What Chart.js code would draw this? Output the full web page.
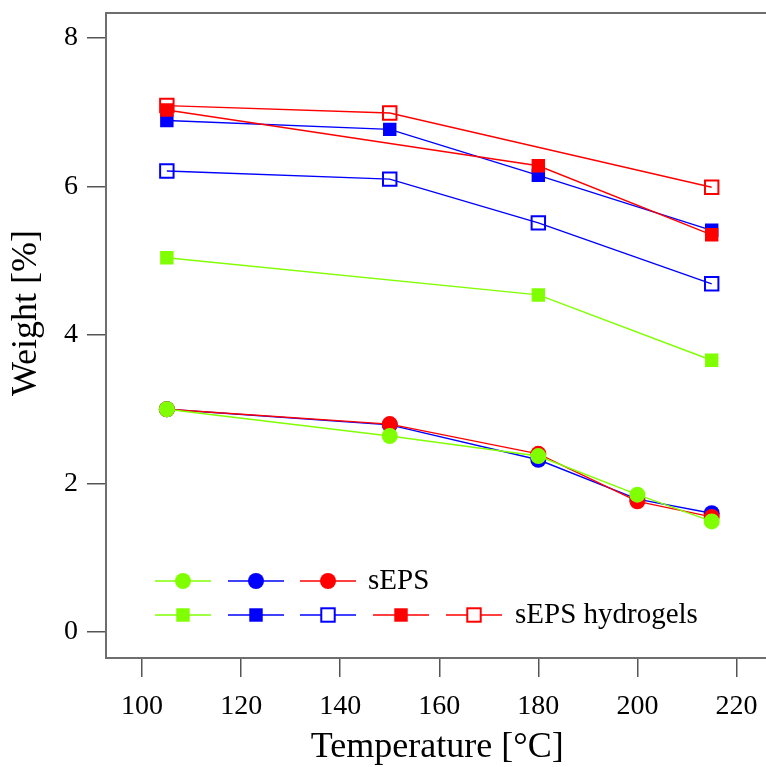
<!DOCTYPE html>
<html>
<head>
<meta charset="utf-8">
<script src="https://cdn.jsdelivr.net/npm/chart.js@4"></script>
<style>
  html, body { margin: 0; padding: 0; background: #fff; overflow: hidden; }
  #wrap { width: 780px; height: 767px; }
</style>
</head>
<body>
<div id="wrap"><canvas id="chart" width="780" height="767"></canvas></div>
<script>
// ---------------------------
// Data
// ---------------------------
const temps = [105, 150, 180, 200, 215];
const sepsGreen = [3.00, 2.64, 2.37, 1.85, 1.49];
const sepsBlue  = [3.00, 2.79, 2.32, 1.79, 1.60];
const sepsRed   = [3.00, 2.80, 2.40, 1.76, 1.55];

const hydroTemps = [105, 150, 180, 215];
const hydroGreen      = [5.04, null, 4.54, 3.66];
const hydroBlueFilled = [6.89, 6.77, 6.15, 5.41];
const hydroBlueOpen   = [6.21, 6.10, 5.51, 4.69];
const hydroRedFilled  = [7.03, null, 6.28, 5.35];
const hydroRedOpen    = [7.09, 6.99, null, 5.99];

const xTicks = [100, 120, 140, 160, 180, 200, 220];
const yTicks = [0, 2, 4, 6, 8];

const legendRow1 = 'sEPS';
const legendRow2 = 'sEPS hydrogels';
const yTitle = 'Weight [%]';

const GREEN = '#80FF00';
const BLUE = '#0000FF';
const RED = '#FF0000';
const FONT = "'Liberation Serif', 'Times New Roman', serif";

// transforme deux listes en points {x, y}, sans les trous
function points(xs, ys) {
    return xs.map((x, i) => ({ x: x, y: ys[i] })).filter(p => p.y !== null);
}

function serie(label, xs, ys, color, style, filled) {
    return {
        label: label,
        data: points(xs, ys),
        borderColor: color,
        borderWidth: 1.4,
        pointStyle: style,
        pointRadius: style === 'circle' ? 8 : 9.5,
        pointBorderWidth: filled ? 0 : 2,
        pointBackgroundColor: filled ? color : 'rgba(0,0,0,0)',
        pointBorderColor: color,
        pointHoverRadius: style === 'circle' ? 8 : 9.5,
        fill: false,
        tension: 0
    };
}

// index 0 est dessiné au-dessus
const datasets = [
    serie('sEPS green', temps, sepsGreen, GREEN, 'circle', true),
    serie('sEPS red', temps, sepsRed, RED, 'circle', true),
    serie('sEPS blue', temps, sepsBlue, BLUE, 'circle', true),
    serie('hydrogel red filled', hydroTemps, hydroRedFilled, RED, 'rect', true),
    serie('hydrogel red open', hydroTemps, hydroRedOpen, RED, 'rect', false),
    serie('hydrogel blue filled', hydroTemps, hydroBlueFilled, BLUE, 'rect', true),
    serie('hydrogel blue open', hydroTemps, hydroBlueOpen, BLUE, 'rect', false),
    serie('hydrogel green', hydroTemps, hydroGreen, GREEN, 'rect', true)
];

// ---------------------------
// Cadre autour de la zone de tracé + titre vertical
// ---------------------------
const boxPlugin = {
    id: 'box',
    afterDraw(chart) {
        const a = chart.chartArea;
        const ctx = chart.ctx;
        ctx.save();
        ctx.strokeStyle = '#6e6e6e';
        ctx.lineWidth = 2;
        ctx.strokeRect(a.left, a.top, a.right - a.left, a.bottom - a.top);
        // titre de l'axe Y (un peu au-dessus du centre, comme l'original)
        ctx.translate(27, 313);
        ctx.rotate(-Math.PI / 2);
        ctx.fillStyle = '#000';
        ctx.font = '36px ' + FONT;
        ctx.textAlign = 'center';
        ctx.textBaseline = 'middle';
        ctx.fillText(yTitle, 0, 0);
        ctx.restore();
    }
};

// ---------------------------
// Légende dessinée à la main (deux lignes)
// ---------------------------
function legendMarker(ctx, ds, cx, cy) {
    ctx.strokeStyle = ds.borderColor;
    ctx.lineWidth = 1.4;
    ctx.beginPath();
    ctx.moveTo(cx - 28, cy);
    ctx.lineTo(cx + 28, cy);
    ctx.stroke();
    const r = ds.pointRadius;
    if (ds.pointStyle === 'circle') {
        ctx.fillStyle = ds.pointBackgroundColor;
        ctx.beginPath();
        ctx.arc(cx, cy, r, 0, Math.PI * 2);
        ctx.fill();
    } else {
        const s = r * Math.SQRT1_2;
        if (ds.pointBorderWidth === 0) {
            ctx.fillStyle = ds.pointBackgroundColor;
            ctx.fillRect(cx - s, cy - s, 2 * s, 2 * s);
        } else {
            ctx.fillStyle = '#fff';
            ctx.fillRect(cx - s, cy - s, 2 * s, 2 * s);
            ctx.lineWidth = 2;
            ctx.strokeRect(cx - s, cy - s, 2 * s, 2 * s);
        }
    }
}

const legendPlugin = {
    id: 'twoRowLegend',
    afterDraw(chart) {
        const ctx = chart.ctx;
        const ds = chart.data.datasets;
        ctx.save();
        const row1 = [ds[0], ds[2], ds[1]];
        const row2 = [ds[7], ds[5], ds[6], ds[3], ds[4]];
        const centers = [183, 256, 328, 401, 474];
        row1.forEach((d, i) => legendMarker(ctx, d, centers[i], 581));
        row2.forEach((d, i) => legendMarker(ctx, d, centers[i], 615));
        ctx.fillStyle = '#000';
        ctx.font = '29px ' + FONT;
        ctx.textBaseline = 'middle';
        ctx.textAlign = 'left';
        ctx.fillText(legendRow1, 368, 581);
        ctx.fillText(legendRow2, 515, 615);
        ctx.restore();
    }
};

// ---------------------------
// Graphique
// ---------------------------
const ctx = document.getElementById('chart').getContext('2d');
const chart = new Chart(ctx, {
    type: 'line',
    data: { datasets: datasets },
    options: {
        responsive: false,
        animation: false,
        devicePixelRatio: 1,
        layout: { padding: { top: 13, left: 0, right: 0, bottom: 0 } },
        plugins: { legend: { display: false }, tooltip: { enabled: false } },
        scales: {
            x: {
                type: 'linear',
                min: 92.715,
                max: 226.47,
                afterFit: s => { s.height = 109; s.paddingLeft = 0; s.paddingRight = 0; },
                afterBuildTicks: s => { s.ticks = xTicks.map(v => ({ value: v })); },
                border: { display: false },
                grid: { drawOnChartArea: false, tickLength: 19, color: '#555', lineWidth: 1.5 },
                ticks: { color: '#000', font: { family: FONT, size: 28 }, padding: 13, maxRotation: 0 },
                title: {
                    display: true,
                    text: 'Temperature [°C]',
                    color: '#000',
                    font: { family: FONT, size: 36, lineHeight: 1 },
                    padding: { top: 0, bottom: 1 }
                }
            },
            y: {
                type: 'linear',
                min: -0.35,
                max: 8.337,
                afterFit: s => { s.width = 106; s.paddingTop = 0; s.paddingBottom = 0; },
                afterBuildTicks: s => { s.ticks = yTicks.map(v => ({ value: v })); },
                border: { display: false },
                grid: { drawOnChartArea: false, tickLength: 19, color: '#555', lineWidth: 1.5 },
                ticks: { color: '#000', font: { family: FONT, size: 28 }, padding: 9 },
                title: { display: false }
            }
        }
    },
    plugins: [boxPlugin, legendPlugin]
});
</script>
</body>
</html>
